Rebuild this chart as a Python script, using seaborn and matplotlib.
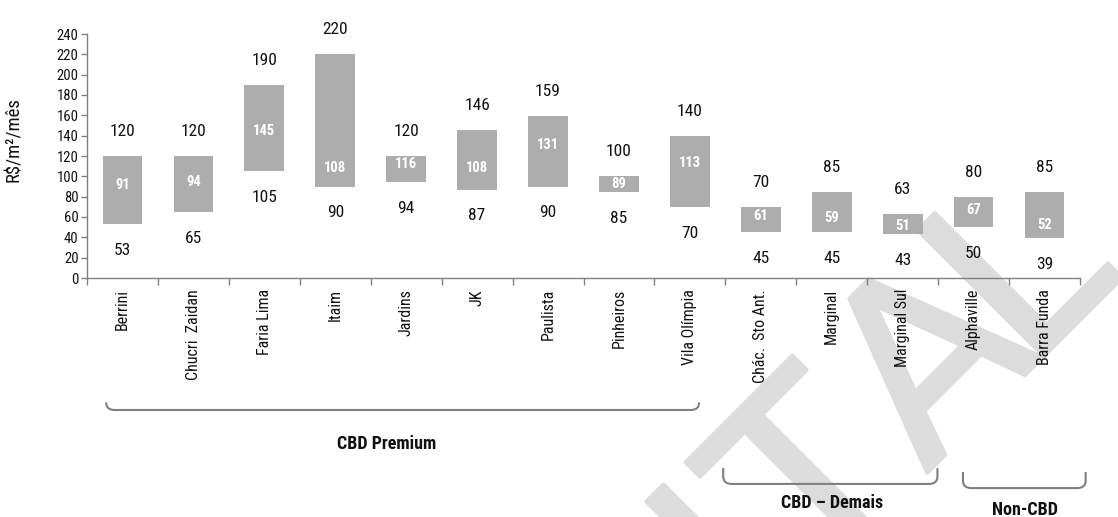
import numpy as np
import pandas as pd
import matplotlib
matplotlib.use("Agg")
import matplotlib.pyplot as plt
import seaborn as sns
from matplotlib import font_manager as fm
from matplotlib.path import Path
from matplotlib.patches import PathPatch
import matplotlib.patheffects as pe

# ---------------- data ----------------
categories = ["Berrini", "Chucri  Zaidan", "Faria Lima", "Itaim", "Jardins", "JK",
              "Paulista", "Pinheiros", "Vila Olímpia", "Chác.  Sto Ant.", "Marginal",
              "Marginal Sul", "Alphaville", "Barra Funda"]
min_vals = [53, 65, 105, 90, 94, 87, 90, 85, 70, 45, 45, 43, 50, 39]
max_vals = [120, 120, 190, 220, 120, 146, 159, 100, 140, 70, 85, 63, 80, 85]
avg_vals = [91, 94, 145, 108, 116, 108, 131, 89, 113, 61, 59, 51, 67, 52]
groups = ["CBD Premium", "CBD – Demais", "Non-CBD"]
y_ticks = list(range(0, 241, 20))
y_label = "R$/m²/mês"
watermark_letters = ["I", "T", "A", "L"]

# ---------------- layout (not data) ----------------
bracket_x = [(-0.23, 8.13), (8.47, 11.49), (11.85, 13.58)]          # data x
bracket_y = [(-0.541, -0.512), (-0.844, -0.779), (-0.861, -0.795)]  # axes frac (bottom, top)
label_pos = [(3.73, -0.680), (10.0, -0.922), (12.72, -0.951)]
wm_centers_px = [(781, 619), (865, 535), (985, 415), (1075, 325)]   # watermark letter anchors

names = {f.name for f in fm.fontManager.ttflist}
cond = next((n for n in ["Roboto Condensed", "Liberation Sans Narrow", "Arial Narrow",
                         "Open Sans Condensed"] if n in names), "Roboto")

sns.set_theme(style="white")
plt.rcParams["font.family"] = [cond, "DejaVu Sans"]

W, H = 1118, 517
fig = plt.figure(figsize=(W / 100, H / 100), dpi=100)
fig.patch.set_facecolor("white")
ax = fig.add_axes([87 / W, 1 - 278 / H, (1080 - 87) / W, 244 / H])
ax.patch.set_alpha(0)

df = pd.DataFrame({"region": categories, "low": min_vals, "high": max_vals})
df["span"] = df["high"] - df["low"]

sns.barplot(data=df, x="region", y="span", bottom=df["low"].to_numpy(),
            color="#adadad", saturation=1, width=0.56, linewidth=0, ax=ax, zorder=2)

ax.set_xlim(-0.5, len(categories) - 0.5)
ax.set_ylim(0, 240)
ax.set_yticks(y_ticks)
ax.set_xticks(np.arange(len(categories) + 1) - 0.5, labels=[""] * (len(categories) + 1))
ax.set_xticks(np.arange(len(categories)), labels=categories, minor=True, rotation=90)
ax.tick_params(axis="x", which="major", bottom=True, length=5, width=1, color="#808080")
ax.tick_params(axis="x", which="minor", bottom=True, length=0, pad=8, labelsize=11.5,
               labelcolor="#111111")
ax.tick_params(axis="y", left=True, length=4, width=1, color="#808080", pad=2,
               labelsize=10.5, labelcolor="#111111")
ax.set_xlabel("")
ax.set_ylabel(y_label, fontsize=13.5, color="#111111")
ax.yaxis.set_label_coords(-0.0645, 0.566)
sns.despine(ax=ax)
for s in ("left", "bottom"):
    ax.spines[s].set_color("#808080")
    ax.spines[s].set_linewidth(1)

for i, (lo, hi, av) in enumerate(zip(min_vals, max_vals, avg_vals)):
    ax.text(i, hi + 24, str(hi), ha="center", va="center", fontsize=12.5,
            color="#111111", clip_on=False)
    ax.text(i, lo - 26, str(lo), ha="center", va="center", fontsize=12.5,
            color="#111111", clip_on=False)
    y_av = min(max(av, lo + 8), hi - 8)   # keep the white label inside its bar
    ax.text(i, y_av, str(av), ha="center", va="center", fontsize=10.5,
            fontweight="bold", color="white", zorder=3)

# group brackets
trans = ax.get_xaxis_transform()
rx, ry = 0.12, 0.03
for (x0, x1), (yb, yt), (lx, ly), name in zip(bracket_x, bracket_y, label_pos, groups):
    verts = [(x0, yt), (x0, yb + ry), (x0, yb), (x0 + rx, yb),
             (x1 - rx, yb), (x1, yb), (x1, yb + ry), (x1, yt)]
    codes = [Path.MOVETO, Path.LINETO, Path.CURVE3, Path.CURVE3,
             Path.LINETO, Path.CURVE3, Path.CURVE3, Path.LINETO]
    ax.add_patch(PathPatch(Path(verts, codes), transform=trans, fill=False,
                           edgecolor="#7f7f7f", linewidth=1.5, clip_on=False))
    ax.text(lx, ly, name, transform=trans, ha="center", va="center",
            fontsize=13, fontweight="bold", color="#111111", clip_on=False)

# light watermark behind the chart
for ch, (px, py) in zip(watermark_letters, wm_centers_px):
    fig.text(px / W, 1 - py / H, ch, fontsize=176, color="#dcdcdc",
             family="DejaVu Sans", rotation=45, rotation_mode="anchor",
             ha="center", va="baseline", zorder=-5,
             path_effects=[pe.withStroke(linewidth=3, foreground="#dcdcdc")])

fig.savefig("out.png", dpi=100)
